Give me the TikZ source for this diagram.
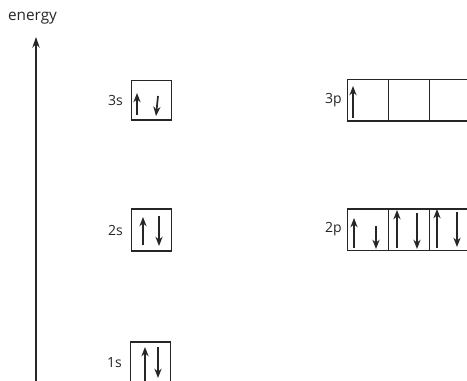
\documentclass[tikz,border=0pt]{standalone}
\usepackage{fontspec}
\setmainfont{Open Sans}
\usetikzlibrary{arrows.meta}
\definecolor{ink}{HTML}{262626}
\tikzset{
  cell/.style={draw=ink, line width=0.8pt, minimum width=30.6pt, minimum height=30pt,
               inner sep=0pt, outer sep=0pt},
  lbl/.style={anchor=east, text=ink, font=\fontsize{10.5}{11}\selectfont, inner sep=0pt},
  spin/.style={draw=ink, line width=1.3pt, -{Stealth[length=7pt,width=5.4pt]}},
  axis/.style={draw=ink, line width=1.3pt, -{Stealth[length=8pt,width=5.5pt]}}
}
\begin{document}
\begin{tikzpicture}[x=0.75pt,y=-0.75pt]
\useasboundingbox (0,0) rectangle (467,381);

% energy axis
\node[text=ink, font=\fontsize{11.5}{13}\selectfont, inner sep=0pt] (elabel) at (32.5,18) {energy};
\coordinate (axbot) at (36,385);
\coordinate (axtop) at (36,37);
\draw[axis] (axbot) -- (axtop);

% s orbitals
\node[cell, minimum height=29.3pt] (s3) at (151.5,100.5) {};
\node[cell, minimum height=31.5pt] (s2) at (151.5,230) {};
\node[cell, minimum height=31.5pt] (s1) at (150.5,363) {};
\node[lbl] (l3s) at ([xshift=-6pt]s3.west) {3s};
\node[lbl] (l2s) at ([xshift=-6pt]s2.west) {2s};
\node[lbl] (l1s) at ([xshift=-6pt]s1.west) {1s};

% p orbitals
\node[cell, minimum height=30.8pt] (p3a) at (368.25,100.5) {};
\node[cell, minimum height=30.8pt, anchor=west] (p3b) at (p3a.east) {};
\node[cell, minimum height=30.8pt, anchor=west] (p3c) at (p3b.east) {};
\node[cell, minimum height=30.8pt] (p2a) at (368.25,229.5) {};
\node[cell, minimum height=30.8pt, anchor=west] (p2b) at (p2a.east) {};
\node[cell, minimum height=30.8pt, anchor=west] (p2c) at (p2b.east) {};
\node[lbl] (l3p) at ([xshift=-4.5pt]p3a.west) {3p};
\node[lbl] (l2p) at ([xshift=-4.5pt]p2a.west) {2p};

% electrons: 3s
\draw[spin] (137,115) -- (137,93);
\draw[spin] (158,96) -- (156,116);
% 2s
\draw[spin] (143,245) -- (143,217);
\draw[spin] (159,216) -- (159,246);
% 1s
\draw[spin] (145,383) -- (145,347);
\draw[spin] (158,347) -- (158,378);
% 3p
\draw[spin] (353,118) -- (353,86);
% 2p
\draw[spin] (354,248) -- (354,218);
\draw[spin] (376,226) -- (376,249);
\draw[spin] (397,248) -- (397,210);
\draw[spin] (417,213) -- (417,249);
\draw[spin] (437,248) -- (437,209);
\draw[spin] (457,212) -- (457,247);
\end{tikzpicture}
\end{document}
